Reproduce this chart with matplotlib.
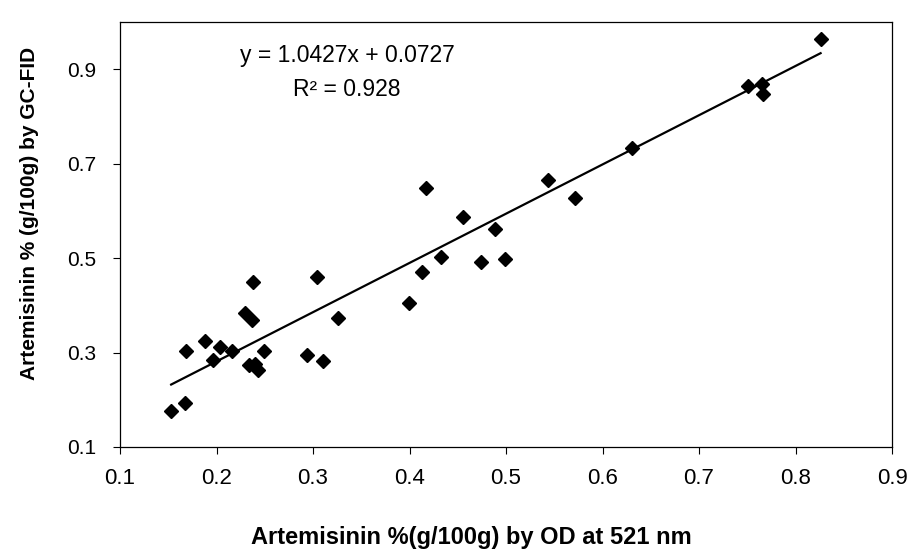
import numpy as np
import matplotlib
matplotlib.use("Agg")
import matplotlib.pyplot as plt

plt.rcParams["font.family"] = ["Liberation Sans", "DejaVu Sans"]

# Données
od_521 = [0.153, 0.167, 0.168, 0.188, 0.196, 0.204, 0.216, 0.230, 0.237, 0.238,
          0.234, 0.240, 0.243, 0.249, 0.294, 0.304, 0.310, 0.326, 0.399, 0.413,
          0.417, 0.433, 0.455, 0.474, 0.489, 0.499, 0.544, 0.572, 0.631, 0.751,
          0.765, 0.766, 0.826]
gc_fid = [0.177, 0.194, 0.304, 0.324, 0.284, 0.312, 0.303, 0.383, 0.368, 0.450,
          0.273, 0.276, 0.264, 0.303, 0.295, 0.459, 0.282, 0.373, 0.405, 0.470,
          0.649, 0.503, 0.587, 0.492, 0.561, 0.499, 0.665, 0.627, 0.733, 0.864,
          0.868, 0.847, 0.963]

pente = 1.0427
ordonnee = 0.0727
r2 = 0.928

x_ticks = [0.1, 0.2, 0.3, 0.4, 0.5, 0.6, 0.7, 0.8, 0.9]
y_ticks = [0.1, 0.3, 0.5, 0.7, 0.9]

# Graphique
fig = plt.figure(figsize=(9.11, 5.60), dpi=100)
ax = fig.add_axes([120 / 911, 113 / 560, 772 / 911, 425 / 560])

ax.plot(od_521, gc_fid, linestyle="none", marker="D", markersize=7.5,
        color="black", zorder=3)

x_ligne = np.array([min(od_521), max(od_521)])
ax.plot(x_ligne, pente * x_ligne + ordonnee, color="black", linewidth=1.6)

ax.set_xlim(0.1, 0.9)
ax.set_ylim(0.1, 1.0)
ax.set_xticks(x_ticks)
ax.set_xticklabels([f"{v:.1f}" for v in x_ticks])
ax.set_yticks(y_ticks)
ax.set_yticklabels([f"{v:.1f}" for v in y_ticks])

ax.tick_params(axis="x", direction="out", length=5, width=0.8, pad=10, labelsize=16)
ax.tick_params(axis="y", direction="out", length=5, width=0.8, pad=12, labelsize=15)
for s in ax.spines.values():
    s.set_linewidth(0.9)
    s.set_color("black")

ax.set_xlabel("Artemisinin %(g/100g) by OD at 521 nm", fontsize=17,
              fontweight="bold")
ax.xaxis.set_label_coords(0.455, -0.185)
ax.set_ylabel("Artemisinin % (g/100g) by GC-FID", fontsize=15,
              fontweight="bold")
ax.yaxis.set_label_coords(-0.105, 0.55)

ax.text(0.294, 0.922, f"y = {pente:.4f}x + {ordonnee:.4f}", transform=ax.transAxes,
        ha="center", va="center", fontsize=16.5)
ax.text(0.294, 0.84, f"R² = {r2:.3f}", transform=ax.transAxes,
        ha="center", va="center", fontsize=16.5)

plt.savefig("out.png", dpi=100)
